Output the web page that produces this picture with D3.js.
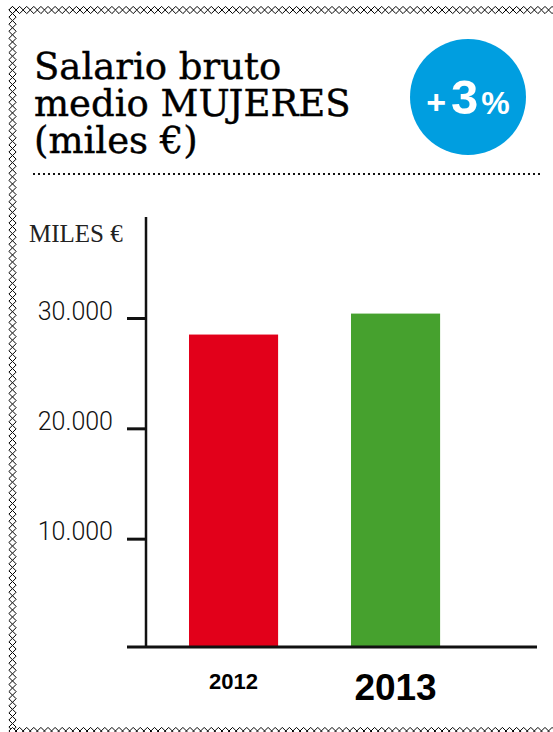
<!DOCTYPE html>
<html>
<head>
<meta charset="utf-8">
<script src="https://cdn.jsdelivr.net/npm/d3@7/dist/d3.min.js"></script>
<style>
  html, body { margin: 0; padding: 0; background: #fff; }
  svg { display: block; }
</style>
</head>
<body>
<svg id="chart"></svg>
<script>
// chart data
const years = ['2012', '2013'];
const salaries = [28500, 30400];
const barColors = ['#e2001a', '#46a12e'];
const yTicks = [10000, 20000, 30000];
const titleLines = ['Salario bruto', 'medio MUJERES', '(miles €)'];
const unitLabel = 'MILES €';
const badgeSign = '+';
const badgeValue = '3';
const badgeUnit = '%';

const width = 553;
const height = 732;

const svg = d3.select('#chart')
    .attr('width', width)
    .attr('height', height);

// diamond chain border
const dSize = 3.6;
const dStep = 7.1;
function diamond(cx, cy) {
  return 'M' + (cx - dSize) + ',' + cy + 'L' + cx + ',' + (cy - dSize) +
    'L' + (cx + dSize) + ',' + cy + 'L' + cx + ',' + (cy + dSize) + 'Z';
}
const border = svg.append('g').attr('class', 'border')
    .attr('fill', '#fff').attr('stroke', '#000').attr('stroke-width', 1);
border.selectAll('.dTop')
    .data(d3.range(12.5, width + dStep, dStep))
    .join('path').attr('class', 'dTop')
    .attr('d', (d) => diamond(d, 10));
border.selectAll('.dLeft')
    .data(d3.range(10, height + dStep, dStep))
    .join('path').attr('class', 'dLeft')
    .attr('d', (d) => diamond(12.5, d));
border.selectAll('.dBottom')
    .data(d3.range(12.5, width + dStep, dStep))
    .join('path').attr('class', 'dBottom')
    .attr('d', (d) => diamond(d, 731));

// title, one text per line
svg.append('g').selectAll('text')
    .data(titleLines)
    .join('text')
    .attr('x', 34)
    .attr('y', (d, i) => 79 + i * 37)
    .attr('font-family', 'DejaVu Serif')
    .attr('font-size', 37)
    .attr('fill', '#000')
    .attr('stroke', '#000')
    .attr('stroke-width', 0.4)
    .text((d) => d);

// dotted rule
svg.append('line')
    .attr('x1', 33).attr('x2', 541)
    .attr('y1', 174).attr('y2', 174)
    .attr('stroke', '#111')
    .attr('stroke-width', 2)
    .attr('stroke-dasharray', '2,3');

// badge
const badge = svg.append('g').attr('transform', 'translate(468,97)');
badge.append('circle').attr('r', 58).attr('fill', '#009ee0');
const badgeText = badge.append('text')
    .attr('text-anchor', 'middle')
    .attr('y', 17)
    .attr('fill', '#fff')
    .attr('font-family', 'Liberation Sans, Arial, sans-serif')
    .attr('font-weight', 'bold');
badgeText.append('tspan').attr('font-size', 34).text(badgeSign);
badgeText.append('tspan').attr('font-size', 49).attr('dx', 5).text(badgeValue);
badgeText.append('tspan').attr('font-size', 32).attr('dx', 3).text(badgeUnit);

// scales
const plot = {left: 146, right: 537, top: 217, bottom: 647};

const y = d3.scaleLinear()
    .domain([0, 30000])
    .range([649, 318]);

const x = d3.scaleBand()
    .domain(years)
    .range([148.5, 480.6])
    .paddingInner(0.45)
    .paddingOuter(0.25);

const es = d3.formatLocale({decimal: ',', thousands: '.', grouping: [3], currency: ['', '€']});

// bars
svg.append('g').selectAll('rect')
    .data(salaries)
    .join('rect')
    .attr('x', (d, i) => x(years[i]))
    .attr('width', x.bandwidth())
    .attr('y', (d) => y(d))
    .attr('height', (d) => plot.bottom - y(d))
    .attr('fill', (d, i) => barColors[i]);

// y axis
const yAxis = svg.append('g')
    .attr('transform', 'translate(' + plot.left + ',0)')
    .call(d3.axisLeft(y)
        .tickValues(yTicks)
        .tickSize(19)
        .tickSizeOuter(0)
        .tickPadding(14)
        .tickFormat(es.format(',')));
yAxis.select('.domain').remove();
yAxis.selectAll('.tick line')
    .attr('stroke', '#111')
    .attr('stroke-width', 3);
yAxis.selectAll('.tick text')
    .attr('font-family', 'Roboto, Liberation Sans, sans-serif')
    .attr('font-weight', 300)
    .attr('font-size', 25)
    .attr('fill', '#111')
    .attr('y', -7);

svg.append('line')
    .attr('x1', plot.left).attr('x2', plot.left)
    .attr('y1', plot.top).attr('y2', plot.bottom + 1)
    .attr('stroke', '#111')
    .attr('stroke-width', 2.5);

// x axis line
svg.append('line')
    .attr('x1', 127).attr('x2', plot.right)
    .attr('y1', plot.bottom).attr('y2', plot.bottom)
    .attr('stroke', '#111')
    .attr('stroke-width', 3);

// unit label
svg.append('text')
    .attr('x', 29)
    .attr('y', 242)
    .attr('font-family', 'Liberation Serif, serif')
    .attr('font-size', 25)
    .attr('fill', '#222')
    .text(unitLabel);

// year labels
svg.append('g').selectAll('text')
    .data(years)
    .join('text')
    .attr('x', (d) => x(d) + x.bandwidth() / 2)
    .attr('y', (d, i) => i === 0 ? 689 : 700)
    .attr('text-anchor', 'middle')
    .attr('font-family', 'Liberation Sans, Arial, sans-serif')
    .attr('font-weight', 'bold')
    .attr('font-size', (d, i) => i === 0 ? 22 : 37)
    .attr('fill', '#000')
    .text((d) => d);
</script>
</body>
</html>
